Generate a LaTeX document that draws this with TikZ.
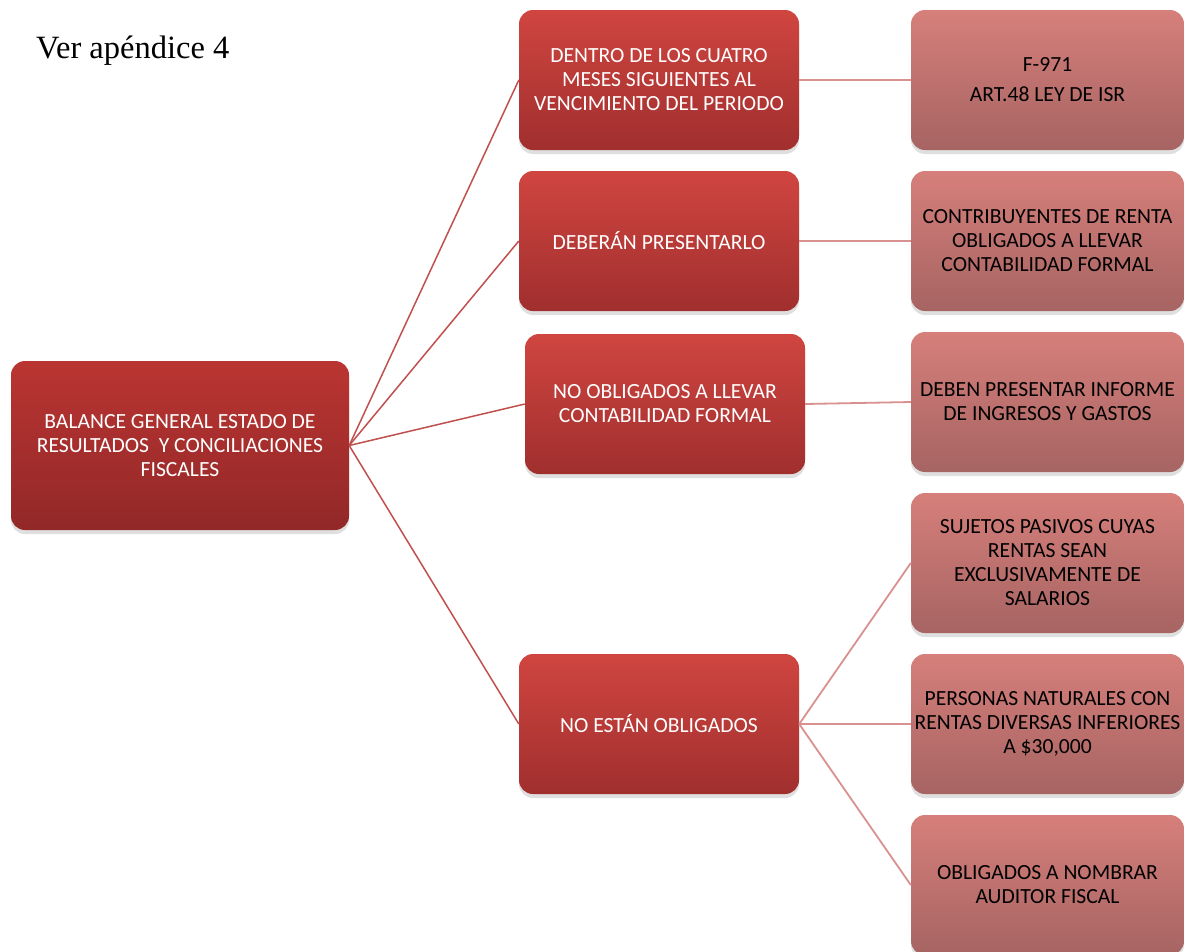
\documentclass[tikz,border=0pt]{standalone}
\usepackage{fontspec}
\setmainfont{Carlito}
\newfontfamily\serifttl{Liberation Serif}
\usetikzlibrary{shadows}
\definecolor{rootTop}{HTML}{BA3532}
\definecolor{rootBot}{HTML}{922828}
\definecolor{midTop}{HTML}{D04540}
\definecolor{midBot}{HTML}{A02F2E}
\definecolor{rgtTop}{HTML}{D67F7B}
\definecolor{rgtBot}{HTML}{A66462}
\definecolor{lnDark}{HTML}{C0504D}
\definecolor{lnLight}{HTML}{D9918F}
\tikzset{
  box/.style={rounded corners=14pt, align=center, inner sep=1pt,
    font=\fontsize{21.6}{24}\selectfont,
    drop shadow={opacity=0.25, shadow xshift=0pt, shadow yshift=-4pt}},
  rootbox/.style={box, top color=rootTop, bottom color=rootBot, text=white,
    minimum width=338pt, minimum height=169pt},
  midbox/.style={box, top color=midTop, bottom color=midBot, text=white,
    minimum width=280pt, minimum height=140pt},
  rgtbox/.style={box, top color=rgtTop, bottom color=rgtBot, text=black,
    minimum width=273pt, minimum height=140pt},
  darkline/.style={draw=lnDark, line width=1.5pt},
  lightline/.style={draw=lnLight, line width=1.8pt},
}
\begin{document}
\begin{tikzpicture}[x=1pt,y=-1pt]
\useasboundingbox (0,0) rectangle (1185,951);
\node[anchor=base west, inner sep=0pt, font=\serifttl\fontsize{32.5}{38}\selectfont] (title) at (36,58) {Ver apéndice 4};

\node[rootbox] (root) at (180,445.5) {BALANCE GENERAL ESTADO DE\\RESULTADOS\ \ Y CONCILIACIONES\\FISCALES};

\node[midbox] (m1) at (659,80) {DENTRO DE LOS CUATRO\\MESES SIGUIENTES AL\\VENCIMIENTO DEL PERIODO};
\node[midbox] (m2) at (659,241) {DEBERÁN PRESENTARLO};
\node[midbox] (m3) at (665,404) {NO OBLIGADOS A LLEVAR\\CONTABILIDAD FORMAL};
\node[midbox] (m4) at (659,724) {NO ESTÁN OBLIGADOS};

\node[rgtbox] (r1) at (1047.5,80) {F-971\\[6pt]ART.48 LEY DE ISR};
\node[rgtbox] (r2) at (1047.5,241) {CONTRIBUYENTES DE RENTA\\OBLIGADOS A LLEVAR\\CONTABILIDAD FORMAL};
\node[rgtbox] (r3) at (1047.5,402) {DEBEN PRESENTAR INFORME\\DE INGRESOS Y GASTOS};
\node[rgtbox] (r4) at (1047.5,563) {SUJETOS PASIVOS CUYAS\\RENTAS SEAN\\EXCLUSIVAMENTE DE\\SALARIOS};
\node[rgtbox] (r5) at (1047.5,724) {PERSONAS NATURALES CON\\RENTAS DIVERSAS INFERIORES\\A \$30,000};
\node[rgtbox] (r6) at (1047.5,885) {OBLIGADOS A NOMBRAR\\AUDITOR FISCAL};

\draw[darkline] (root.east) -- (m1.west);
\draw[darkline] (root.east) -- (m2.west);
\draw[darkline] (root.east) -- (m3.west);
\draw[darkline] (root.east) -- (m4.west);

\draw[lightline] (m1.east) -- (r1.west);
\draw[lightline] (m2.east) -- (r2.west);
\draw[lightline] (m3.east) -- (r3.west);
\draw[lightline] (m4.east) -- (r4.west);
\draw[lightline] (m4.east) -- (r5.west);
\draw[lightline] (m4.east) -- (r6.west);
\end{tikzpicture}
\end{document}
